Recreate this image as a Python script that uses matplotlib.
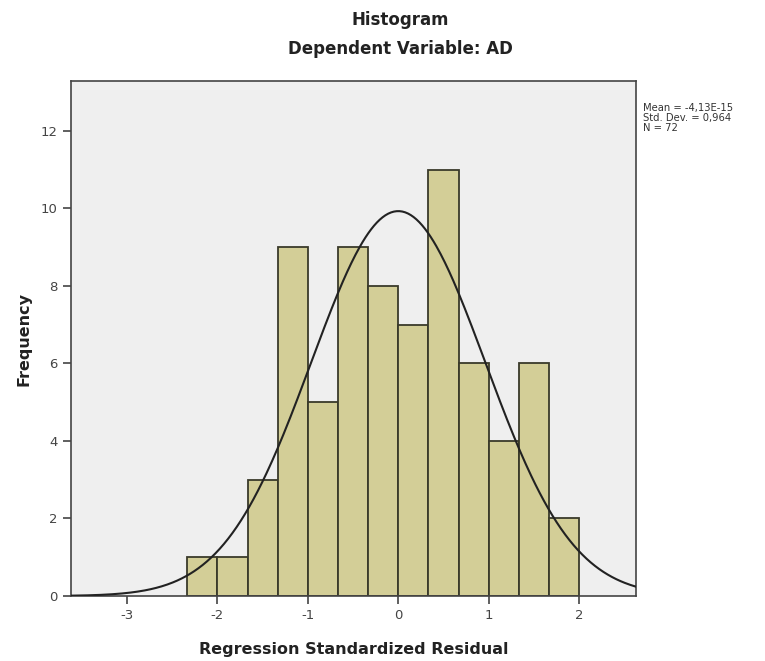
import numpy as np
import matplotlib
matplotlib.use("Agg")
import matplotlib.pyplot as plt

# Data
bin_edges = [-7/3, -2, -5/3, -4/3, -1, -2/3, -1/3, 0, 1/3, 2/3, 1, 4/3, 5/3, 2]
counts = [1, 1, 3, 9, 5, 9, 8, 7, 11, 6, 4, 6, 2]
mean_val = -4.13e-15
std_val = 0.964
n_val = 72
xticks = [-3, -2, -1, 0, 1, 2]
yticks = [0, 2, 4, 6, 8, 10, 12]

fig = plt.figure(figsize=(7.65, 6.61), dpi=100)
fig.patch.set_facecolor("white")
ax = fig.add_axes([71/765, 1 - 596/661, (636 - 71)/765, (596 - 81)/661])
ax.set_facecolor("#efefef")

edges = np.array(bin_edges)
widths = np.diff(edges)
ax.bar(edges[:-1], counts, width=widths, align="edge", color="#d3ce97",
       edgecolor="#3a3a2a", linewidth=1.3, zorder=2)

bw = widths.mean()
xs = np.linspace(-3.62, 2.63, 400)
ys = n_val * bw * np.exp(-0.5 * ((xs - mean_val) / std_val) ** 2) / (std_val * np.sqrt(2 * np.pi))
ax.plot(xs, ys, color="#222222", linewidth=1.5, zorder=3)

ax.set_xlim(-3.62, 2.63)
ax.set_ylim(0, 13.29)
ax.set_xticks(xticks)
ax.set_xticklabels([str(t) for t in xticks])
ax.set_yticks(yticks)
ax.set_yticklabels([str(t) for t in yticks])
ax.tick_params(axis="both", colors="#444444", labelsize=9.5, length=6, width=1.2,
               labelcolor="#444444")
for s in ax.spines.values():
    s.set_color("#444444")
    s.set_linewidth(1.2)

ax.set_xlabel("Regression Standardized Residual", fontsize=11.5, fontweight="bold",
              color="#222222", labelpad=14)
ax.set_ylabel("Frequency", fontsize=11.5, fontweight="bold", color="#222222", labelpad=7)

fig.text(400/765, 1 - 20/661, "Histogram", ha="center", va="center",
         fontsize=12, fontweight="bold", color="#222222")
fig.text(400/765, 1 - 49/661, "Dependent Variable: AD", ha="center", va="center",
         fontsize=12, fontweight="bold", color="#222222")

fig.text(643/765, 1 - 103/661,
         "Mean = -4,13E-15\nStd. Dev. = 0,964\nN = 72",
         ha="left", va="top", fontsize=7.2, color="#333333", linespacing=1.0)

fig.savefig("out.png", dpi=100)
